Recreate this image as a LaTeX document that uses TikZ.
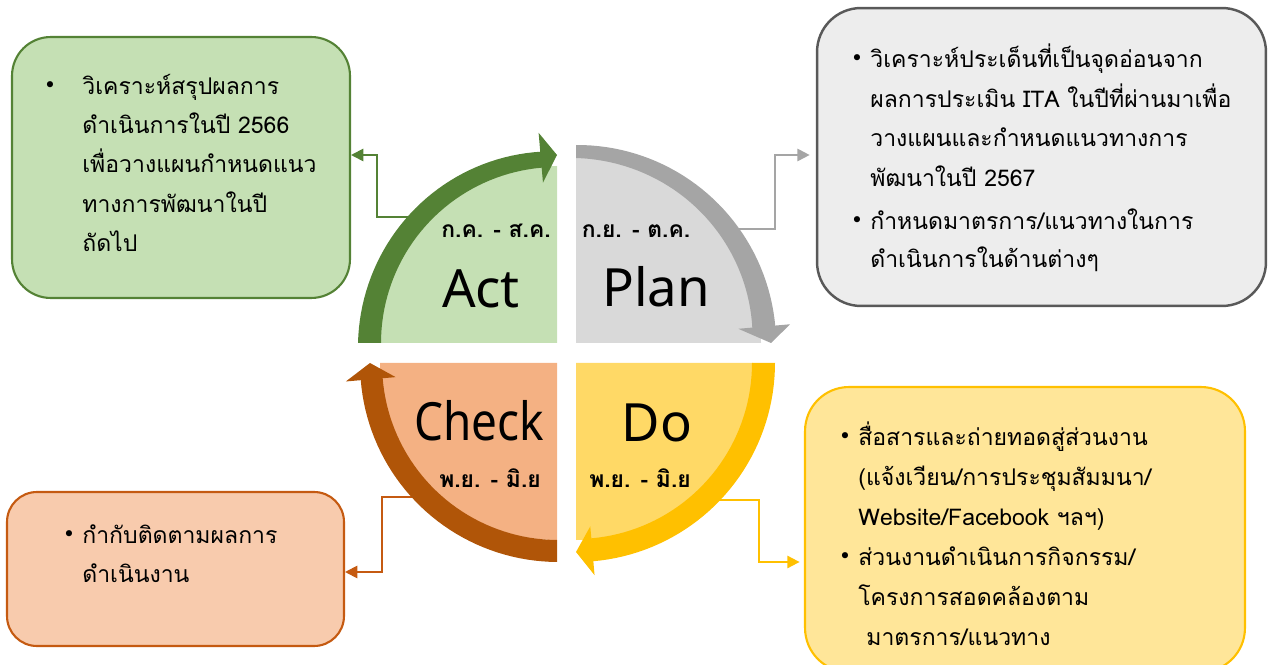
\documentclass[tikz,border=0pt]{standalone}
\usepackage{fontspec}
\usetikzlibrary{arrows.meta}
\newfontfamily\thaifont[Script=Thai]{Loma}
\newfontfamily\bigfont{Noto Sans}
\newfontfamily\bulletfont{DejaVu Sans}
\definecolor{actfill}{HTML}{C5E0B4}
\definecolor{actdark}{HTML}{548235}
\definecolor{planfill}{HTML}{D9D9D9}
\definecolor{planarrow}{HTML}{A5A5A5}
\definecolor{planboxc}{HTML}{EDEDED}
\definecolor{planedge}{HTML}{595959}
\definecolor{dofill}{HTML}{FFD966}
\definecolor{doarrow}{HTML}{FFC000}
\definecolor{doboxc}{HTML}{FFE699}
\definecolor{checkfill}{HTML}{F4B183}
\definecolor{checkarrow}{HTML}{B05508}
\definecolor{checkboxc}{HTML}{F8CBAD}
\definecolor{checkedge}{HTML}{C55A11}
\tikzset{
 infobox/.style={draw, line width=1.2pt, rounded corners=22pt, inner sep=0pt},
 boxtext/.style={anchor=base west, inner sep=0pt, font=\thaifont\fontsize{13.1}{16}\selectfont},
 bulletmark/.style={anchor=base, inner sep=0pt, font=\bulletfont\fontsize{12}{12}\selectfont},
 month/.style={anchor=base, inner sep=0pt, font=\thaifont\bfseries\fontsize{13}{15}\selectfont},
 phase/.style={anchor=base, inner sep=0pt, font=\bigfont\fontsize{30}{34}\selectfont},
 conn/.style={line width=1.1pt, -{Triangle[length=7pt,width=7pt]}},
}
\begin{document}
\begin{tikzpicture}[x=0.02cm,y=-0.02cm]
\useasboundingbox (0,0) rectangle (1268,665);

% info boxes
\node[infobox, fill=actfill, draw=actdark, minimum width=6.76cm, minimum height=5.22cm] (actbox) at (181,167.5) {};
\node[infobox, fill=planboxc, draw=planedge, line width=1.4pt, minimum width=8.98cm, minimum height=5.96cm, rounded corners=25pt] (planbox) at (1041.5,157) {};
\node[infobox, fill=checkboxc, draw=checkedge, minimum width=6.74cm, minimum height=3.08cm, rounded corners=17pt] (checkbox) at (175.5,569) {};
\node[infobox, fill=doboxc, draw=doarrow, minimum width=8.8cm, minimum height=5.7cm, rounded corners=25pt] (dobox) at (1025,529.5) {};

% connectors
\coordinate (actfrom) at (410,217);
\coordinate (actlvl) at (0,155);
\draw[conn, actdark] (actfrom) -- (377,217) |- (actbox.east |- actlvl);
\coordinate (planfrom) at (735,229);
\coordinate (planlvl) at (0,155);
\draw[conn, planarrow, shorten >=3.5pt] (planfrom) -- (775,229) |- (planbox.west |- planlvl);
\coordinate (checkfrom) at (420,497);
\coordinate (checklvl) at (0,572);
\draw[conn, checkedge] (checkfrom) -- (382,497) |- (checkbox.east |- checklvl);
\coordinate (dofrom) at (716,500);
\coordinate (dolvl) at (0,562);
\draw[conn, doarrow, shorten >=2.5pt] (dofrom) -- (759,500) |- (dobox.west |- dolvl);

% Act quadrant
\begin{scope}[shift={(557,343)}]
\fill[actfill] (0,0) -- (180:177) arc[start angle=180,end angle=270,radius=177] -- cycle;
\fill[actdark] plot[domain=180:265,samples=40] (\x:176) -- (265:161) -- (270:188) -- (265:211)
  -- plot[domain=265:180,samples=40] (\x:{192+7*(265-\x)/85}) -- cycle;
\end{scope}
% Plan quadrant
\begin{scope}[shift={(576,343)}]
\fill[planfill] (0,0) -- (270:185) arc[start angle=270,end angle=360,radius=185] -- cycle;
\fill[planarrow] plot[domain=270:355,samples=40] (\x:{185-8*(\x-270)/85}) -- (355:163) -- (360:195) -- (355:215)
  -- plot[domain=355:270,samples=40] (\x:{198+2*(\x-270)/85}) -- cycle;
\end{scope}
% Do quadrant
\begin{scope}[shift={(576,363)}]
\fill[dofill] (0,0) -- (0:177) arc[start angle=0,end angle=90,radius=177] -- cycle;
\fill[doarrow] plot[domain=0:85,samples=40] (\x:176) -- (85:164) -- (90:189) -- (85:213)
  -- plot[domain=85:0,samples=40] (\x:199) -- cycle;
\end{scope}
% Check quadrant
\begin{scope}[shift={(557,363)}]
\fill[checkfill] (0,0) -- (90:177) arc[start angle=90,end angle=180,radius=177] -- cycle;
\fill[checkarrow] plot[domain=90:175,samples=40] (\x:{177-2*(\x-90)/85}) -- (175:162) -- (180:187) -- (175:212)
  -- plot[domain=175:90,samples=40] (\x:{199-2*(\x-90)/85}) -- cycle;
\end{scope}

% quadrant labels
\node[month] (actmonth) at (496,238) {ก.ค. - ส.ค.};
\node[phase] (actword) at (481,308) {Act};
\node[month] (planmonth) at (636,238) {ก.ย. - ต.ค.};
\node[phase] (planword) at (656,307) {Plan};
\node[phase] (checkword) at (479,440) {\scalebox{0.87}[1]{Check}};
\node[month] (checkmonth) at (490,487) {พ.ย. - มิ.ย};
\node[phase] (doword) at (657,441) {Do};
\node[month] (domonth) at (640,487) {พ.ย. - มิ.ย};

% Act box text
\node[bulletmark] (actb1) at (50,93) {•};
\node[boxtext] (act1) at (82,95) {วิเคราะห์สรุปผลการ};
\node[boxtext] (act2) at (82,134) {ดำเนินการในปี 2566};
\node[boxtext] (act3) at (82,173) {เพื่อวางแผนกำหนดแนว};
\node[boxtext] (act4) at (82,213) {ทางการพัฒนาในปี};
\node[boxtext] (act5) at (82,252) {ถัดไป};

% Plan box text
\node[bulletmark] (planb1) at (857,66) {•};
\node[boxtext] (plan1) at (870,68) {วิเคราะห์ประเด็นที่เป็นจุดอ่อนจาก};
\node[boxtext] (plan2) at (870,108) {ผลการประเมิน ITA ในปีที่ผ่านมาเพื่อ};
\node[boxtext] (plan3) at (870,147) {วางแผนและกำหนดแนวทางการ};
\node[boxtext] (plan4) at (870,187) {พัฒนาในปี 2567};
\node[bulletmark] (planb2) at (857,228) {•};
\node[boxtext] (plan5) at (870,230) {กำหนดมาตรการ/แนวทางในการ};
\node[boxtext] (plan6) at (870,268) {ดำเนินการในด้านต่างๆ};

% Check box text
\node[bulletmark] (checkb1) at (69,541) {•};
\node[boxtext] (check1) at (82,543) {กำกับติดตามผลการ};
\node[boxtext] (check2) at (82,582) {ดำเนินงาน};

% Do box text
\node[bulletmark] (dob1) at (845,443) {•};
\node[boxtext] (do1) at (858,445) {สื่อสารและถ่ายทอดสู่ส่วนงาน};
\node[boxtext] (do2) at (858,485) {(แจ้งเวียน/การประชุมสัมมนา/};
\node[boxtext] (do3) at (858,525) {Website/Facebook ฯลฯ)};
\node[bulletmark] (dob2) at (845,563) {•};
\node[boxtext] (do4) at (858,565) {ส่วนงานดำเนินการกิจกรรม/};
\node[boxtext] (do5) at (858,605) {โครงการสอดคล้องตาม};
\node[boxtext] (do6) at (866,645) {มาตรการ/แนวทาง};
\end{tikzpicture}
\end{document}
